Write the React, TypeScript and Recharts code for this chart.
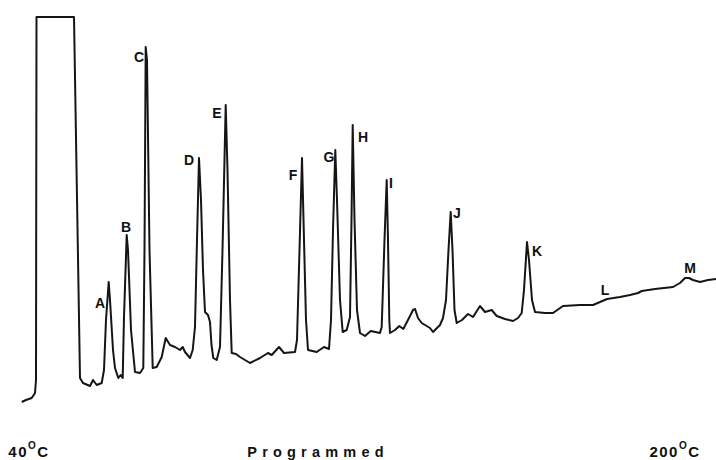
import { LineChart, Line, XAxis, YAxis, ReferenceDot } from "recharts";

// retention position (left to right) and detector signal
const times = [
  21.7, 26, 31.7, 35, 36, 36.5, 74, 80, 83, 90, 93, 96.7, 101.7, 104, 106, 108.7, 110, 113, 115,
  118.3, 120.7, 122.7, 124, 126.7, 128, 131, 135, 140, 143.3, 144.5, 145.7, 147, 149.5, 152.7,
  156.7, 161.7, 165.7, 170, 175, 180, 182.7, 185, 190, 192.7, 195, 197, 199, 201, 203, 205, 208,
  210, 211.5, 213.3, 216.7, 220, 222.5, 225.7, 227.5, 230, 231.7, 236, 240, 250, 260, 268, 271.7,
  279, 284, 295, 297, 299.5, 302, 304, 306, 308, 316.7, 324, 329, 331, 333, 335.3, 337, 340, 342.7,
  346.7, 350, 351.5, 352.7, 354.5, 357, 360, 365, 370.7, 380, 381.7, 384.5, 386.7, 388, 389.3, 390,
  395, 399.3, 403.3, 409, 413, 415, 418, 421.7, 430, 433, 440, 443, 446, 448.5, 450.7, 452.5, 454.5,
  456.7, 462, 468, 473, 480, 485, 491.7, 496.7, 505, 513, 518, 521.7, 524, 527, 529, 532, 535, 545,
  553, 563, 580, 593, 600, 607, 620, 630, 638, 641.7, 655, 673, 680, 685, 689, 693, 700, 708, 716,
];
const signal = [
  8, 10, 12, 17, 30, 393, 393, 32, 27, 24, 30, 25, 27, 40, 90, 128, 110, 60, 42,
  32, 35, 32, 93, 175, 160, 80, 38, 37, 42, 160, 363, 350, 160, 42,
  43, 53, 72, 65, 63, 60, 63, 58, 52, 60, 83, 170, 252, 210, 140, 98, 95,
  88, 65, 52, 50, 63, 160, 305, 240, 110, 57, 56, 53, 47, 52, 57, 55,
  63, 57, 58, 70, 160, 252, 170, 90, 60, 58, 63, 61, 90, 180, 260, 210, 110, 78,
  80, 93, 190, 285, 190, 100, 77, 74, 79, 77, 83, 170, 230, 170, 90, 77,
  80, 84, 81, 92, 100, 101, 92, 87, 82, 78, 85, 92, 110, 160, 198, 160, 100,
  87, 90, 96, 93, 104, 98, 100, 94, 91, 89, 92, 97, 120, 168, 150, 110, 98, 97,
  97, 104, 105, 105, 108, 111, 113, 115, 117, 119, 121, 123, 127, 132, 132, 130, 128, 130, 131,
];

const peakNames = ["A", "B", "C", "D", "E", "F", "G", "H", "I", "J", "K", "L", "M"];
const peakLabelTimes = [100, 126, 139, 189, 217, 293, 329, 363, 391, 457, 537, 605, 690];
const peakLabelSignal = [107, 183, 353, 250, 297, 235, 253, 273, 227, 197, 159, 120, 142];

const axisTicks = [29, 318, 675];
const axisTickLabels = ["40", "Programmed", "200"];

const data = times.map((t, i) => ({ t, s: signal[i] }));

const FONT = "'Liberation Sans', Arial, sans-serif";

const TempTick = (props: any) => {
  const { x, y, payload } = props;
  const idx = axisTicks.indexOf(payload.value);
  const text = axisTickLabels[idx];
  if (text === "Programmed") {
    return (
      <text x={x} y={y + 39} textAnchor="middle" fontFamily={FONT} fontWeight="bold" fontSize={14.5} letterSpacing={5.2} fill="#111">
        {text}
      </text>
    );
  }
  return (
    <text x={x} y={y + 39} textAnchor="middle" fontFamily={FONT} fontWeight="bold" fontSize={15} letterSpacing={1.5} fill="#111">
      <tspan>{text}</tspan>
      <tspan dy={-8} fontSize={10}>O</tspan>
      <tspan dy={8}>C</tspan>
    </text>
  );
};

const PeakLabel = (props: any) => {
  const { cx, cy, name } = props;
  return (
    <text x={cx} y={cy} dy="0.36em" textAnchor="middle" fontFamily={FONT} fontWeight="bold" fontSize={14} fill="#111">
      {name}
    </text>
  );
};

export default function App() {
  return (
    <div style={{ position: "absolute", left: 0, top: 0, width: 716, height: 460, background: "#fff" }}>
      <LineChart width={716} height={460} data={data} margin={{ top: 0, right: 0, bottom: 0, left: 0 }}>
        <XAxis
          dataKey="t"
          type="number"
          domain={[0, 716]}
          ticks={axisTicks}
          interval={0}
          height={50}
          axisLine={false}
          tickLine={false}
          tick={<TempTick />}
        />
        <YAxis type="number" domain={[0, 410]} hide />
        <Line
          type="linear"
          dataKey="s"
          stroke="#151515"
          strokeWidth={2}
          strokeLinejoin="round"
          dot={false}
          activeDot={false}
          isAnimationActive={false}
        />
        {peakNames.map((n, i) => (
          <ReferenceDot
            key={n}
            x={peakLabelTimes[i]}
            y={peakLabelSignal[i]}
            r={0}
            ifOverflow="visible"
            shape={(p: any) => <PeakLabel {...p} name={n} />}
          />
        ))}
      </LineChart>
    </div>
  );
}
